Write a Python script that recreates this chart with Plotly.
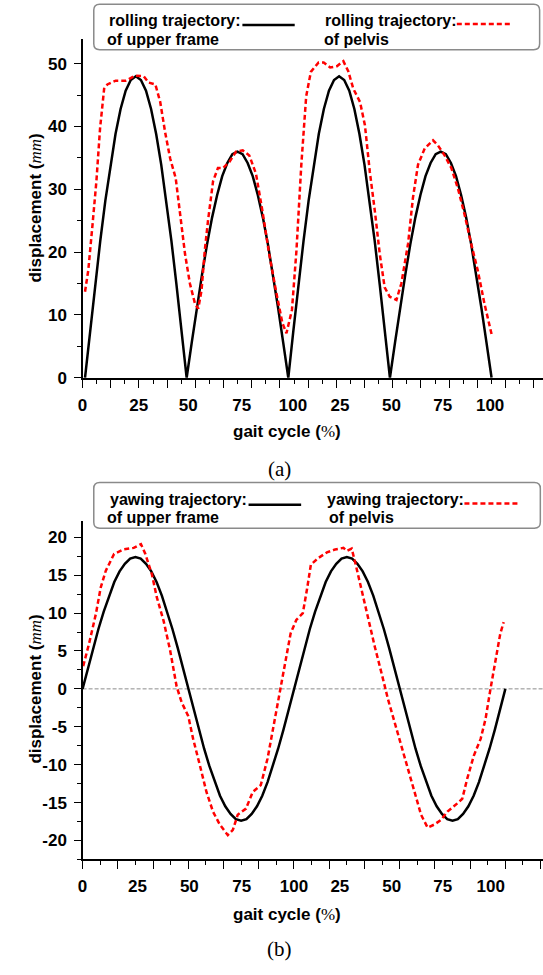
import plotly.graph_objects as go

W, H = 543, 975

# ---------------- data ----------------
roll_x_upper = [1.2, 3.7, 6.2, 8.7, 11.2, 13.7, 16.2, 18.7, 21.2, 23.7, 26.2, 28.7, 31.2, 33.7,
                36.2, 38.7, 41.2, 43.7, 46.2, 48.7, 51.2, 53.7, 56.2, 58.7, 61.2, 63.7, 66.2,
                68.7, 71.2, 73.7, 76.2, 78.7, 81.2, 83.7, 86.2, 88.7, 91.2, 93.7, 96.2, 98.7,
                101.2, 103.7, 106.2, 108.7, 111.2, 113.7, 116.2, 118.7, 121.2, 123.7, 126.2,
                128.7, 131.2, 133.7, 136.2, 138.7, 141.2, 143.7, 146.2, 148.7, 151.2, 153.7,
                156.2, 158.7, 161.2, 163.7, 166.2, 168.7, 171.2, 173.7, 176.2, 178.7, 181.2,
                183.7, 186.2, 188.7, 191.2, 193.7, 196.2, 198.7, 201.2]
roll_upper = [0, 7.5, 14.8, 21.8, 28.2, 33.9, 38.8, 42.8, 45.7, 47.4, 48.0, 47.4, 45.7, 42.8,
              38.8, 33.9, 28.2, 21.8, 14.8, 7.5,
              0, 5.6, 11.1, 16.3, 21.2, 25.5, 29.1, 32.1, 34.2, 35.6, 36.0, 35.6, 34.2, 32.1,
              29.1, 25.5, 21.2, 16.3, 11.1, 5.6,
              0, 7.5, 14.8, 21.8, 28.2, 33.9, 38.8, 42.8, 45.7, 47.4, 48.0, 47.4, 45.7, 42.8,
              38.8, 33.9, 28.2, 21.8, 14.8, 7.5,
              0, 5.6, 11.1, 16.3, 21.2, 25.5, 29.1, 32.1, 34.2, 35.6, 36.0, 35.6, 34.2, 32.1,
              29.1, 25.5, 21.2, 16.3, 11.1, 5.6,
              0]
roll_x_pelvis = [1.2, 2.8, 4.9, 6.8, 8.6, 10.6, 12.2, 16.3, 21.2, 26.0, 30.1, 32.5, 35.8, 38.2,
                 40.6, 43.1, 45.8, 47.9, 50.4, 52.8, 55.3, 56.9, 58.5, 60.1, 61.7, 64.2, 66.6,
                 69.1, 72.3, 75.5, 78.8, 82.0, 85.3, 88.5, 91.8, 95.1, 98.3, 100.3, 103.0,
                 105.2, 107.6, 110.0, 112.3, 116.1, 118.6, 121.8, 125.1, 128.3, 130.7, 133.2,
                 136.5, 138.9, 141.3, 143.8, 146.2, 148.6, 151.1, 154.4, 156.8, 160.1, 162.5,
                 165.0, 168.3, 172.4, 174.8, 178.1, 181.4, 184.6, 187.9, 191.2, 194.4, 197.7,
                 201.3]
roll_pelvis = [13.7, 17.1, 24.4, 31.3, 39.7, 46.0, 46.7, 47.3, 47.3, 48.1, 48.0, 47.0, 46.7, 43.9,
               39.1, 34.9, 31.8, 26.0, 19.7, 15.0, 11.8, 11.0, 13.9, 20.2, 25.0, 31.3, 33.4,
               33.4, 34.4, 36.0, 36.2, 35.4, 32.5, 26.5, 19.7, 13.9, 8.7, 7.1, 10.8,
               20.2, 33.9, 44.8, 48.7, 50.2, 50.2, 49.4, 49.6, 50.4, 48.8, 46.0,
               43.9, 40.2, 32.8, 26.5, 19.7, 14.4, 12.9, 12.4, 15.0, 21.3, 28.6,
               33.9, 36.5, 37.8, 37.0, 35.4, 33.4, 30.2, 26.0, 21.3, 17.1, 11.8,
               6.8]

yaw_x_upper = [0, 2.5, 5, 7.5, 10, 12.5, 15, 17.5, 20, 22.5, 25, 27.5, 30, 32.5, 35, 37.5, 40,
               42.5, 45, 47.5, 50, 52.5, 55, 57.5, 60, 62.5, 65, 67.5, 70, 72.5, 75, 77.5, 80,
               82.5, 85, 87.5, 90, 92.5, 95, 97.5, 100, 102.5, 105, 107.5, 110, 112.5, 115,
               117.5, 120, 122.5, 125, 127.5, 130, 132.5, 135, 137.5, 140, 142.5, 145, 147.5,
               150, 152.5, 155, 157.5, 160, 162.5, 165, 167.5, 170, 172.5, 175, 177.5, 180,
               182.5, 185, 187.5, 190, 192.5, 195, 197.5, 200]
yaw_upper = [0, 2.7, 5.4, 7.9, 10.2, 12.3, 14.1, 15.5, 16.5, 17.2, 17.4, 17.2, 16.5, 15.5, 14.1,
             12.3, 10.2, 7.9, 5.4, 2.7,
             0, -2.7, -5.4, -7.9, -10.2, -12.3, -14.1, -15.5, -16.5, -17.2, -17.4, -17.2, -16.5,
             -15.5, -14.1, -12.3, -10.2, -7.9, -5.4, -2.7,
             0, 2.7, 5.4, 7.9, 10.2, 12.3, 14.1, 15.5, 16.5, 17.2, 17.4, 17.2, 16.5, 15.5, 14.1,
             12.3, 10.2, 7.9, 5.4, 2.7,
             0, -2.7, -5.4, -7.9, -10.2, -12.3, -14.1, -15.5, -16.5, -17.2, -17.4, -17.2, -16.5,
             -15.5, -14.1, -12.3, -10.2, -7.9, -5.4, -2.7,
             0]
yaw_x_pelvis = [0.3, 3.1, 6.3, 8.6, 11.0, 14.9, 19.5, 24.2, 27.6, 29.7, 32.8, 35.1, 38.3, 41.4,
                44.5, 46.9, 50.0, 52.3, 55.5, 58.6, 61.7, 64.9, 68.7, 71.1, 73.4, 77.3, 80.5,
                84.3, 87.5, 90.6, 93.7, 96.1, 98.4, 101.1, 104.2, 106.2, 108.0, 111.7, 115.6,
                119.5, 123.4, 125.0, 127.3, 129.2, 132.0, 135.1, 138.2, 141.4, 144.5, 147.6,
                150.7, 153.8, 157.0, 160.1, 163.2, 166.4, 169.5, 172.6, 177.3, 179.6, 182.0,
                185.1, 188.3, 190.6, 192.9, 195.3, 197.6, 199.2]
yaw_pelvis = [3.0, 6.0, 9.9, 13.4, 15.6, 17.8, 18.4, 18.6, 19.1, 17.8, 15.1, 12.1, 9.0, 5.1,
              0.3, -1.8, -3.6, -6.6, -10.1, -13.6, -16.2, -17.9, -19.3, -18.6, -16.6, -15.8, -13.6,
              -12.7, -9.2, -4.4, 0.0, 4.0, 7.3, 9.1, 10.0, 13.2, 16.4, 17.3, 18.0,
              18.4, 18.6, 18.2, 18.5, 16.4, 13.0, 9.0, 5.6, 2.1, -1.4, -4.4,
              -7.5, -10.5, -13.6, -16.6, -18.3, -17.9, -17.3, -16.2, -15.1, -14.5, -11.8,
              -8.8, -6.6, -4.0, -0.1, 3.8, 7.3, 8.8]

x_tick_text = ["0", "25", "50", "75", "100", "25", "50", "75", "100"]
roll_tick_pos = [0.0, 27.6, 52.0, 78.3, 103.5, 126.6, 152.0, 177.2, 200.5]
yaw_tick_pos = [0.0, 26.0, 50.5, 75.3, 100.0, 121.7, 146.2, 170.4, 193.1]

roll_y_ticks = [0, 10, 20, 30, 40, 50]
roll_y_text = ["0", "10", "20", "30", "40", "50"]
yaw_y_ticks = [-20, -15, -10, -5, 0, 5, 10, 15, 20]
yaw_y_text = ["-20", "-15", "-10", "-5", "0", "5", "10", "15", "20"]

legend_a = ["rolling trajectory:", "of upper frame", "rolling trajectory:", "of pelvis"]
legend_b = ["yawing trajectory:", "of upper frame", "yawing trajectory:", "of pelvis"]

# ---------------- helpers ----------------
def px(x):
    return x / W

def py(y):
    return 1 - y / H

SANS = "Liberation Sans, Arial, sans-serif"
SERIF = "Liberation Serif, Times New Roman, serif"
tick_font = dict(family=SANS, size=17, color="black", weight="bold")

fig = go.Figure()

fig.add_trace(go.Scatter(x=roll_x_upper, y=roll_upper, mode="lines",
                         line=dict(color="black", width=2.5), xaxis="x", yaxis="y",
                         showlegend=False, hoverinfo="skip"))
fig.add_trace(go.Scatter(x=roll_x_pelvis, y=roll_pelvis, mode="lines",
                         line=dict(color="#ff0000", width=2.5, dash="5px,3px"), xaxis="x", yaxis="y",
                         showlegend=False, hoverinfo="skip"))
fig.add_trace(go.Scatter(x=yaw_x_upper, y=yaw_upper, mode="lines",
                         line=dict(color="black", width=2.5), xaxis="x2", yaxis="y2",
                         showlegend=False, hoverinfo="skip"))
fig.add_trace(go.Scatter(x=yaw_x_pelvis, y=yaw_pelvis, mode="lines",
                         line=dict(color="#ff0000", width=2.5, dash="5px,3px"), xaxis="x2", yaxis="y2",
                         showlegend=False, hoverinfo="skip"))
fig.add_trace(go.Scatter(x=[None], y=[None], xaxis="x3", yaxis="y", showlegend=False, hoverinfo="skip"))
fig.add_trace(go.Scatter(x=[None], y=[None], xaxis="x4", yaxis="y2", showlegend=False, hoverinfo="skip"))

xd = [78.3 / W, 1.0]
ROLL_RANGE = [0, 226.5]
YAW_RANGE = [0, 217.8]

def tick_axis(rng, dtick, anchor):
    return dict(domain=xd, range=rng, anchor=anchor, showline=True, linecolor="black",
                linewidth=1.5, ticks="outside", ticklen=8, tickwidth=1.2, tickcolor="black",
                tickmode="linear", tick0=0, dtick=dtick, showticklabels=False,
                showgrid=False, zeroline=False, fixedrange=True,
                minor=dict(ticks="outside", ticklen=4, tickwidth=1.2, tickcolor="black",
                           dtick=dtick / 2, tick0=0, showgrid=False))

def label_axis(rng, vals, over, anchor):
    return dict(overlaying=over, anchor=anchor, range=rng, tickmode="array", tickvals=vals,
                ticktext=x_tick_text, ticks="", showline=False, showgrid=False, zeroline=False,
                tickfont=tick_font, ticklabelstandoff=15, fixedrange=True)

def y_axis(dom, rng, vals, text, anchor):
    dt = vals[1] - vals[0]
    return dict(domain=dom, range=rng, anchor=anchor, showline=True, linecolor="black",
                linewidth=1.5, ticks="outside", ticklen=6.5, tickwidth=1.2, tickcolor="black",
                tickmode="array", tickvals=vals, ticktext=text, tickfont=tick_font,
                ticklabelstandoff=4, showgrid=False, zeroline=False, fixedrange=True,
                minor=dict(ticks="outside", ticklen=3.5, tickwidth=1.2, tickcolor="black",
                           tickmode="linear", dtick=dt / 2, tick0=0, showgrid=False))

shapes = []
annotations = []

def rounded_box(x0, y0, x1, y1, r):
    p = (f"M {px(x0 + r)},{py(y0)} L {px(x1 - r)},{py(y0)} Q {px(x1)},{py(y0)} {px(x1)},{py(y0 + r)} "
         f"L {px(x1)},{py(y1 - r)} Q {px(x1)},{py(y1)} {px(x1 - r)},{py(y1)} "
         f"L {px(x0 + r)},{py(y1)} Q {px(x0)},{py(y1)} {px(x0)},{py(y1 - r)} "
         f"L {px(x0)},{py(y0 + r)} Q {px(x0)},{py(y0)} {px(x0 + r)},{py(y0)} Z")
    return dict(type="path", xref="paper", yref="paper", path=p, fillcolor="white",
                line=dict(color="#8a8a8a", width=1.5), layer="above")

def legend(texts, box, rows, cols, samples):
    shapes.append(rounded_box(*box, 6))
    for t, (xl, yc) in zip(texts, [(cols[0], rows[0]), (cols[1], rows[1]), (cols[2], rows[0]), (cols[3], rows[1])]):
        annotations.append(dict(text=t, x=px(xl), y=py(yc), xref="paper", yref="paper",
                                xanchor="left", yanchor="middle", showarrow=False,
                                font=dict(family=SANS, size=16, color="black", weight="bold")))
    (bx0, bx1, by), (rx0, rx1, ry) = samples
    shapes.append(dict(type="line", xref="paper", yref="paper", x0=px(bx0), x1=px(bx1),
                       y0=py(by), y1=py(by), line=dict(color="black", width=2.5)))
    shapes.append(dict(type="line", xref="paper", yref="paper", x0=px(rx0), x1=px(rx1),
                       y0=py(ry), y1=py(ry), line=dict(color="#ff0000", width=2.5, dash="5px,3px")))

legend(legend_a, (89.6, 4.2, 539.6, 50.2), (21, 39.8), (103, 101, 321, 319.5),
       ((239.6, 292.4, 25.3), (456, 510.3, 24.2)))
legend(legend_b, (89.6, 487.6, 540.3, 533.7), (504.2, 523.3), (104, 101.4, 323, 324.8),
       ((245.8, 298.9, 510.1), (463.7, 518.2, 508.7)))

shapes.append(dict(type="line", xref="x2 domain", yref="y2", x0=0, x1=1, y0=0, y1=0,
                   line=dict(color="#8c8c8c", width=1, dash="4px,2px"), layer="below"))

xtitle = ('gait cycle (<span style="font-family:Liberation Serif;font-weight:normal">%</span>)')
ytitle = ('displacement (<span style="font-family:Liberation Serif;font-style:italic;'
          'font-weight:normal">mm</span>)')
for yc in (436, 924):
    annotations.append(dict(text=xtitle, x=px(284.4), y=py(yc), xref="paper", yref="paper",
                            xanchor="center", yanchor="middle", showarrow=False,
                            font=dict(family=SANS, size=17, color="black", weight="bold")))
for yc in (210, 696):
    annotations.append(dict(text=ytitle, x=px(31), y=py(yc), xref="paper", yref="paper",
                            xanchor="center", yanchor="middle", showarrow=False, textangle=-90,
                            font=dict(family=SANS, size=17, color="black", weight="bold")))
for cap, yc in (("(a)", 474), ("(b)", 959)):
    annotations.append(dict(text=cap, x=px(277), y=py(yc), xref="paper", yref="paper",
                            xanchor="center", yanchor="middle", showarrow=False,
                            font=dict(family=SERIF, size=21, color="black")))

fig.update_layout(
    width=W, height=H, margin=dict(l=0, r=0, t=0, b=0), autosize=False,
    paper_bgcolor="white", plot_bgcolor="white", showlegend=False,
    xaxis=tick_axis(ROLL_RANGE, 13.87, "y"),
    xaxis3=label_axis(ROLL_RANGE, roll_tick_pos, "x", "y"),
    yaxis=y_axis([py(381.7), py(39.8)], [0, 53.87], roll_y_ticks, roll_y_text, "x"),
    xaxis2=tick_axis(YAW_RANGE, 100 / 6, "y2"),
    xaxis4=label_axis(YAW_RANGE, yaw_tick_pos, "x2", "y2"),
    yaxis2=y_axis([py(868.3), py(526)], [-22.5, 22.2], yaw_y_ticks, yaw_y_text, "x2"),
    shapes=shapes, annotations=annotations,
)

post = ("document.body.style.margin='0';document.body.style.padding='0';"
        "document.body.style.overflow='hidden';document.documentElement.style.overflow='hidden';")

fig.write_html("out.html", config={"displayModeBar": False}, post_script=post)
